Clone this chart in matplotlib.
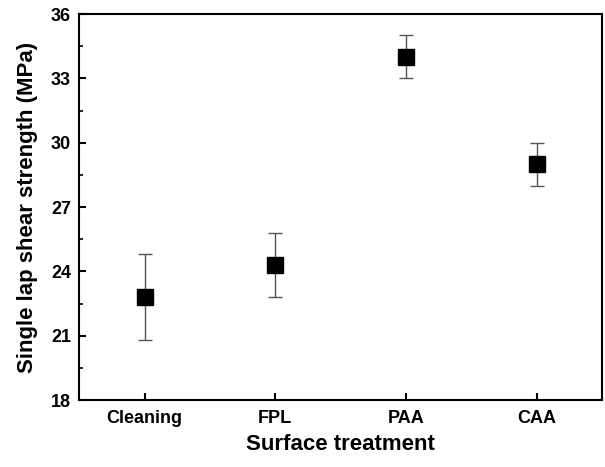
import numpy as np
import matplotlib.pyplot as plt

plt.rcParams['font.family'] = ['Liberation Sans', 'DejaVu Sans']
plt.rcParams['font.weight'] = 'bold'

# Single lap shear strength per surface treatment
treatments = ['Cleaning', 'FPL', 'PAA', 'CAA']
strength = [22.8, 24.3, 34.0, 29.0]
error = [2.0, 1.5, 1.0, 1.0]

x = np.arange(1, len(treatments) + 1)

fig, ax = plt.subplots(figsize=(6.05, 4.67), dpi=100)
ax.errorbar(x, strength, yerr=error, fmt='s', color='black', markersize=11,
            ecolor='#555555', elinewidth=1, capsize=5, capthick=1)

ax.set_xlim(0.5, 4.5)
ax.set_ylim(18, 36)
ax.set_xticks(x)
ax.set_xticklabels(treatments)
ax.set_yticks(np.arange(18, 37, 3))
ax.set_yticks(np.arange(19.5, 36, 3), minor=True)
ax.tick_params(axis='both', which='major', direction='in', length=5, width=1.5,
               labelsize=13)
ax.tick_params(axis='x', which='major', pad=7)
ax.tick_params(axis='y', which='major', pad=6)
ax.tick_params(axis='y', which='minor', direction='in', length=3, width=1.2)
for lbl in ax.get_xticklabels() + ax.get_yticklabels():
    lbl.set_fontweight('bold')
for sp in ax.spines.values():
    sp.set_linewidth(1.5)

ax.set_xlabel('Surface treatment', fontsize=16, fontweight='bold', labelpad=5)
ax.set_ylabel('Single lap shear strength (MPa)', fontsize=16, fontweight='bold',
              labelpad=9)

fig.subplots_adjust(left=0.131, right=0.995, top=0.970, bottom=0.143)
fig.savefig('out.png')
